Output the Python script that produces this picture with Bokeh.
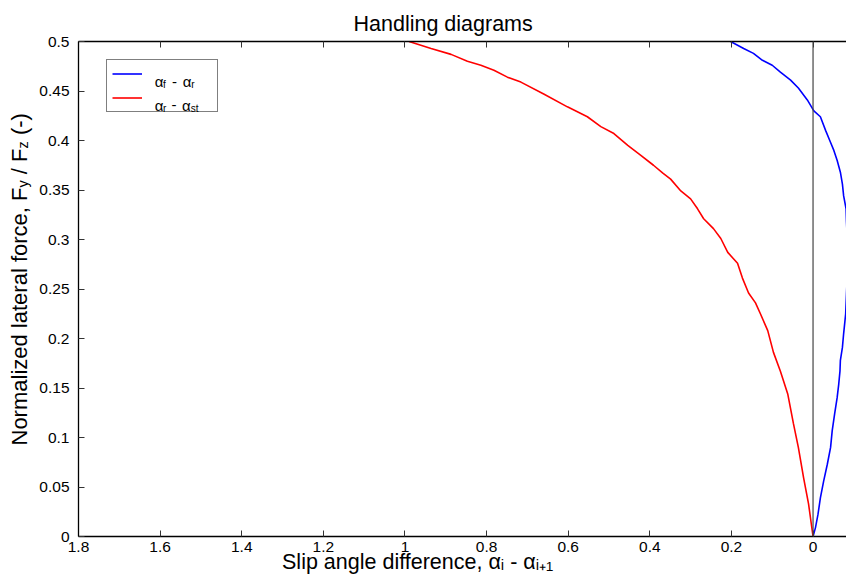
import math
from bokeh.plotting import figure
from bokeh.layouts import row
from bokeh.models import (Range1d, FixedTicker, LinearAxis, Span, Legend, LegendItem,
                          Label, NumeralTickFormatter)
from bokeh.core.properties import value
from bokeh.embed import file_html
from bokeh.resources import INLINE

FONT = "Liberation Sans"

# ---------------- data ----------------
x_ticks = [1.8, 1.6, 1.4, 1.2, 1.0, 0.8, 0.6, 0.4, 0.2, 0.0]
y_ticks = [0.0, 0.05, 0.1, 0.15, 0.2, 0.25, 0.3, 0.35, 0.4, 0.45, 0.5]

# alpha_f - alpha_r (blue)
blue_x = [0, -0.006, -0.012, -0.018, -0.026, -0.035, -0.043, -0.047, -0.053, -0.059,
          -0.063, -0.066, -0.067, -0.072, -0.075, -0.080, -0.082, -0.084, -0.085, -0.084,
          -0.082, -0.081, -0.075, -0.072, -0.067, -0.059, -0.051, -0.043, -0.031, -0.018,
          -0.002, 0.014, 0.036, 0.055, 0.080, 0.100, 0.124, 0.146, 0.170, 0.202]
blue_y = [0, 0.009, 0.022, 0.039, 0.056, 0.073, 0.090, 0.107, 0.124, 0.140,
          0.154, 0.167, 0.178, 0.191, 0.205, 0.225, 0.245, 0.265, 0.280, 0.300,
          0.318, 0.331, 0.344, 0.356, 0.368, 0.380, 0.390, 0.398, 0.410, 0.424,
          0.430, 0.441, 0.453, 0.461, 0.469, 0.476, 0.481, 0.488, 0.493, 0.500]

# alpha_r - alpha_st (red)
red_x = [0, 0.011, 0.023, 0.036, 0.048, 0.062, 0.080, 0.097, 0.111, 0.129,
         0.141, 0.158, 0.173, 0.185, 0.209, 0.226, 0.244, 0.268, 0.283, 0.300,
         0.324, 0.349, 0.368, 0.391, 0.422, 0.454, 0.488, 0.520, 0.553, 0.602,
         0.660, 0.716, 0.749, 0.782, 0.814, 0.847, 0.887, 0.936, 0.990]
red_y = [0, 0.033, 0.059, 0.090, 0.114, 0.144, 0.167, 0.186, 0.208, 0.225,
         0.236, 0.246, 0.261, 0.276, 0.287, 0.301, 0.311, 0.321, 0.331, 0.341,
         0.349, 0.361, 0.367, 0.375, 0.385, 0.395, 0.407, 0.414, 0.424, 0.434,
         0.447, 0.459, 0.464, 0.471, 0.476, 0.480, 0.487, 0.493, 0.500]

title_text = "Handling diagrams"
x_label = "Slip angle difference, αᵢ - αᵢ₊₁"

# ---------------- layout ----------------
W, H = 846, 578
LW = 36                      # strip holding the y-axis label
XR = (1.8, -0.082)
YR = (0.0, 0.5)
FL, FT, FW, FH = 77, 41, 769, 495   # frame position on the page


def dx(px):
    return XR[0] + (px - FL) * (XR[1] - XR[0]) / FW


def dy(py):
    return YR[1] - (py - FT) * (YR[1] - YR[0]) / FH


p = figure(width=W - LW, height=H,
           min_border_left=FL - LW, min_border_right=0, min_border_top=FT,
           min_border_bottom=H - FT - FH,
           x_range=Range1d(*XR), y_range=Range1d(*YR),
           output_backend="svg", toolbar_location=None, tools="")
p.background_fill_color = "white"
p.border_fill_color = "white"
p.outline_line_color = None
p.grid.visible = False

p.title.text = title_text
p.title.text_font = FONT
p.title.text_font_size = "21.5px"
p.title.text_font_style = "normal"
p.title.text_color = "black"
p.title.align = "left"
p.title.offset = 275
p.title.standoff = 11

for ax in (p.xaxis[0], p.yaxis[0]):
    ax.major_label_text_font = FONT
    ax.major_label_text_font_size = "15.5px"
    ax.major_label_text_color = "black"
    ax.major_tick_in = 6
    ax.major_tick_out = 0
    ax.major_tick_line_color = "#333333"
    ax.minor_tick_line_color = None
    ax.axis_line_color = "black"
    ax.axis_line_width = 1.3
    ax.formatter = NumeralTickFormatter(format="0.[00]")
p.xaxis.ticker = FixedTicker(ticks=x_ticks)
p.yaxis.ticker = FixedTicker(ticks=y_ticks)
p.xaxis.major_label_standoff = 5
p.yaxis.major_label_standoff = 9

p.xaxis.axis_label = x_label + "\u00a0" * 15
p.xaxis.axis_label_text_font = FONT
p.xaxis.axis_label_text_font_size = "21.5px"
p.xaxis.axis_label_text_font_style = "normal"
p.xaxis.axis_label_text_color = "black"
p.xaxis.axis_label_standoff = -5

top = LinearAxis(ticker=FixedTicker(ticks=x_ticks), major_label_text_font_size="0px",
                 major_label_standoff=0, major_tick_in=6, major_tick_out=0,
                 major_tick_line_color="#333333", minor_tick_line_color=None,
                 axis_line_color="black", axis_line_width=1.3)
p.add_layout(top, "above")

p.add_layout(Span(location=0, dimension="height", line_color="#444444", line_width=1.2))

rb = p.line(blue_x, blue_y, line_color="#0000ff", line_width=1.6)
rr = p.line(red_x, red_y, line_color="#ff0000", line_width=1.6)

leg = Legend(items=[LegendItem(label=value(" "), renderers=[rb]),
                    LegendItem(label=value("  "), renderers=[rr])],
             location=(28, 424), padding=5, spacing=7, glyph_height=17, label_height=17,
             glyph_width=30, label_standoff=10, label_width=60, margin=0,
             border_line_color="black", border_line_width=1.5,
             background_fill_alpha=0.0, label_text_font_size="14px")
p.add_layout(leg, "center")


def txt(fig, t, x, y, size, angle=0.0, units="data"):
    fig.add_layout(Label(x=x, y=y, x_units=units, y_units=units, text=t, text_font=FONT,
                         text_font_size=f"{size}px", text_color="black",
                         text_baseline="alphabetic", text_align="left", angle=angle))


# legend texts (inside the frame)
for t, px, py, s in [("α", 153.3, 81, 15), ("f", 161.5, 84, 10), ("-", 170.5, 81, 15),
                     ("α", 181.5, 81, 15), ("r", 190, 84, 10),
                     ("α", 153.3, 104.5, 15), ("r", 161.5, 107.5, 10), ("-", 170, 104.5, 15),
                     ("α", 180.7, 104.5, 15), ("st", 189.5, 107.5, 10)]:
    txt(p, t, dx(px), dy(py), s)

# ---------------- y-axis label strip ----------------
# (the row aligns this strip's frame with the main frame: bottom at FT + FH)
lf = figure(width=LW, height=H, min_border=0, title=None,
            x_range=Range1d(0, LW), y_range=Range1d(0, H),
            x_axis_type=None, y_axis_type=None,
            output_backend="svg", toolbar_location=None, tools="")
lf.outline_line_color = None
lf.background_fill_color = "white"
lf.border_fill_color = "white"

A = math.pi / 2
BASE = FT + FH
for t, bx, py, s in [("Normalized lateral force, F", 19, 445, 22),
                     ("y", 22.5, 187.0, 14.5),
                     ("/ F", 19, 173.7, 22),
                     ("z", 22.5, 148.0, 14.5),
                     ("(-)", 19, 134.6, 22)]:
    txt(lf, t, bx, BASE - py, s, A, units="screen")

layout = row(lf, p, spacing=0)
open("out.html", "w").write(file_html(layout, INLINE))
